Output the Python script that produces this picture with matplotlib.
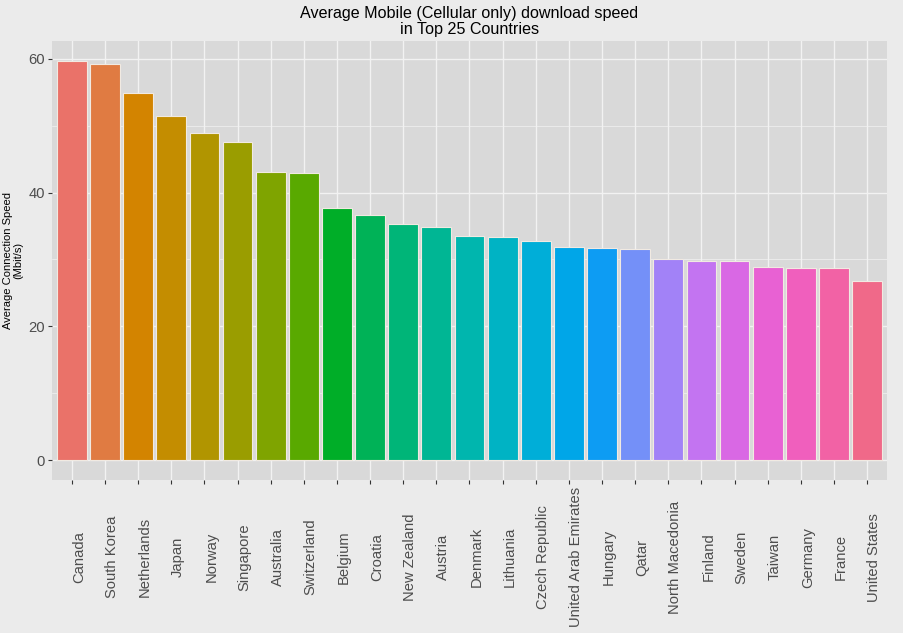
import numpy as np
import matplotlib
matplotlib.use("Agg")
import matplotlib.pyplot as plt
import matplotlib.transforms as mtransforms

countries = ["Canada", "South Korea", "Netherlands", "Japan", "Norway", "Singapore",
             "Australia", "Switzerland", "Belgium", "Croatia", "New Zealand", "Austria",
             "Denmark", "Lithuania", "Czech Republic", "United Arab Emirates", "Hungary",
             "Qatar", "North Macedonia", "Finland", "Sweden", "Taiwan", "Germany",
             "France", "United States"]
speeds = [59.7, 59.2, 54.9, 51.5, 48.9, 47.6, 43.1, 43.0, 37.7, 36.7, 35.3, 34.8,
          33.5, 33.4, 32.8, 31.9, 31.75, 31.5, 30.1, 29.8, 29.8, 28.9, 28.8, 28.7, 26.8]
y_ticks = [0, 20, 40, 60]
y_minor = [10, 30, 50]

title = "Average Mobile (Cellular only) download speed\nin Top 25 Countries"
ylabel = "Average Connection Speed\n(Mbit/s)"


def hcl_to_hex(h, c=100.0, l=65.0):
    # R's hcl(): polar LUV -> XYZ -> sRGB
    WX, WY, WZ = 95.047, 100.0, 108.883
    denom = WX + 15 * WY + 3 * WZ
    wu, wv = 4 * WX / denom, 9 * WY / denom
    hr = np.deg2rad(h)
    U, V = c * np.cos(hr), c * np.sin(hr)
    Y = WY * ((l + 16) / 116) ** 3 if l > 8 else WY * l / 903.3
    u = U / (13 * l) + wu
    v = V / (13 * l) + wv
    X = 9.0 * Y * u / (4 * v)
    Z = -X / 3 - 5 * Y + 3 * Y / v

    def gtrans(t):
        return 1.055 * t ** (1 / 2.4) - 0.055 if t > 0.0031308 else 12.92 * t
    R = gtrans((3.240479 * X - 1.537150 * Y - 0.498535 * Z) / WY)
    G = gtrans((-0.969256 * X + 1.875992 * Y + 0.041556 * Z) / WY)
    B = gtrans((0.055648 * X - 0.204043 * Y + 1.057311 * Z) / WY)
    rgb = [min(max(x, 0), 1) for x in (R, G, B)]
    return "#%02x%02x%02x" % tuple(int(round(x * 255)) for x in rgb)


n = len(countries)
hues = np.linspace(15, 375 - 360 / n, n)
colors = [hcl_to_hex(h % 360, c=92, l=62) for h in hues]

plt.rcParams["font.family"] = ["Liberation Sans", "DejaVu Sans"]

W, H = 904, 633
fig = plt.figure(figsize=(W / 100, H / 100), dpi=100)
fig.patch.set_facecolor("#EBEBEB")

left, right, top, bottom = 52, 887, 41, 480
ax = fig.add_axes([left / W, 1 - bottom / H, (right - left) / W, (bottom - top) / H])
ax.set_facecolor("#D9D9D9")

pos = np.arange(1, n + 1)
ax.bar(pos, speeds, width=0.9, color=colors, edgecolor="#F1EAE2", linewidth=0.8, zorder=3)

ymax = max(speeds)
ax.set_ylim(-0.05 * ymax, 1.05 * ymax)
ax.set_xlim(0.4, n + 0.6)

ax.set_yticks(y_ticks)
ax.set_yticks(y_minor, minor=True)
ax.set_xticks(pos)
ax.set_xticklabels(countries, rotation=90, ha="center", va="center")

ax.grid(True, which="major", color="#F2F2F2", lw=1.0, zorder=1)
ax.grid(True, which="minor", axis="y", color="#F2F2F2", lw=0.5, zorder=1)
for s in ax.spines.values():
    s.set_visible(False)

ax.tick_params(axis="x", which="major", length=3, width=0.8, color="#333333",
               labelsize=10.6, labelcolor="#4D4D4D", pad=52.5)
ax.tick_params(axis="y", which="major", length=3, width=0.8, color="#333333",
               labelsize=10.6, labelcolor="#4D4D4D", pad=2)
ax.tick_params(axis="y", which="minor", length=0)

offset = mtransforms.ScaledTranslation(7 / 100, 0, fig.dpi_scale_trans)
for lab in ax.get_xticklabels():
    lab.set_transform(lab.get_transform() + offset)

fig.text(469.5 / W, 1 - 21.5 / H, title, ha="center", va="center",
         fontsize=11.6, color="black", linespacing=1.15, multialignment="center")
fig.text(13.5 / W, 1 - 260.5 / H, ylabel, ha="center", va="center", rotation=90,
         fontsize=8, color="black", linespacing=1.0, multialignment="center")

fig.savefig("out.png", dpi=100, facecolor=fig.get_facecolor())
